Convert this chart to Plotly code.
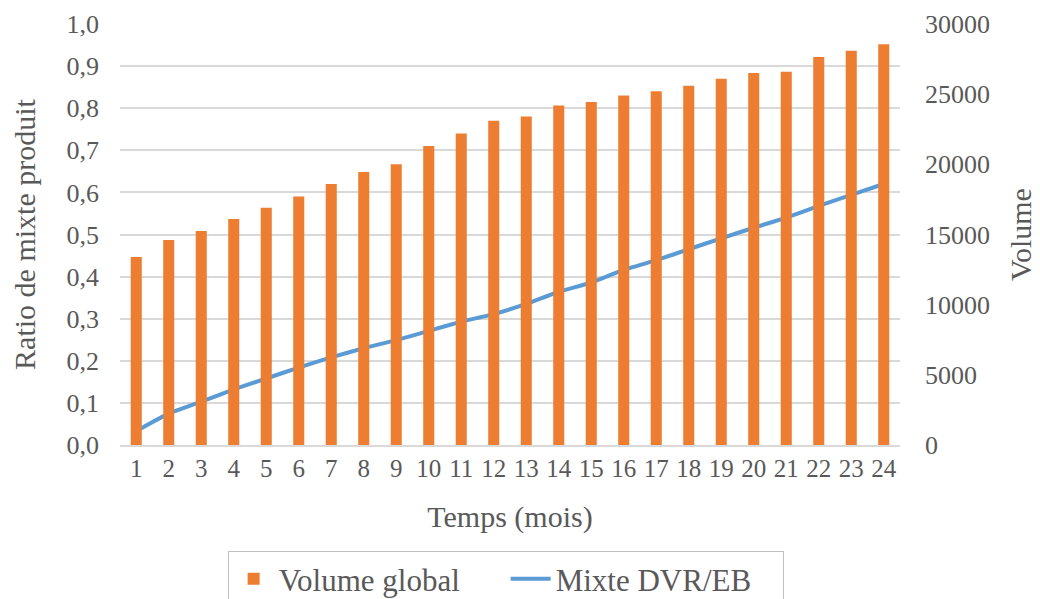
import plotly.graph_objects as go

months = list(range(1, 25))
volume_global = [13400, 14600, 15250, 16100, 16900, 17700, 18600, 19450, 20000, 21300,
                 22200, 23100, 23400, 24200, 24450, 24900, 25200, 25600, 26100, 26500,
                 26600, 27650, 28100, 28550]
mixte_dvr_eb = [0.033, 0.075, 0.103, 0.132, 0.158, 0.184, 0.208, 0.230, 0.249, 0.271,
                0.293, 0.311, 0.335, 0.364, 0.386, 0.416, 0.439, 0.465, 0.491, 0.516,
                0.540, 0.568, 0.594, 0.620]

FONT = "Liberation Serif, Times New Roman, serif"
TXT = "#595959"

fig = go.Figure()
fig.add_trace(go.Bar(x=months, y=volume_global, name="Volume global",
                     marker=dict(color="#ED7D31", line=dict(width=0)),
                     width=0.34, yaxis="y2"))
fig.add_trace(go.Scatter(x=months, y=mixte_dvr_eb, name="Mixte DVR/EB", mode="lines",
                         line=dict(color="#5B9BD5", width=4, shape="spline", smoothing=0.3),
                         yaxis="y"))

fig.update_layout(
    width=1032, height=591,
    margin=dict(l=112, r=140, t=16, b=154, autoexpand=False),
    paper_bgcolor="white", plot_bgcolor="white",
    separators=", ",
    font=dict(family=FONT, size=26, color=TXT),
    showlegend=True,
    legend=dict(orientation="h", x=0.138, xanchor="left", y=-0.252, yanchor="top",
                bordercolor="#bfbfbf", borderwidth=1, font=dict(size=31, color=TXT),
                traceorder="normal", itemwidth=40, entrywidth=222, entrywidthmode="pixels"),
    xaxis=dict(range=[0.5, 24.5], tickmode="linear", dtick=1, showgrid=False,
               showline=True, linecolor="#d9d9d9", linewidth=1.5, ticks="",
               automargin=False,
               title=dict(text="Temps (mois)", font=dict(size=30, color=TXT), standoff=25),
               tickfont=dict(size=25, color=TXT), zeroline=False),
    yaxis=dict(range=[0, 1.0], dtick=0.1, tickformat=".1f", showgrid=True,
               gridcolor="#d9d9d9", gridwidth=1.5, zeroline=False, ticks="",
               automargin=False, ticklabelstandoff=20,
               title=dict(text="Ratio de mixte produit", font=dict(size=30, color=TXT), standoff=22),
               tickfont=dict(size=26, color=TXT)),
    yaxis2=dict(range=[0, 30000], dtick=5000, tickformat="d", overlaying="y", side="right",
                showgrid=False, zeroline=False, ticks="", automargin=False,
                ticklabelstandoff=24,
                title=dict(text="Volume", font=dict(size=30, color=TXT), standoff=20),
                tickfont=dict(size=26, color=TXT)),
)

fig.write_html("out.html")
